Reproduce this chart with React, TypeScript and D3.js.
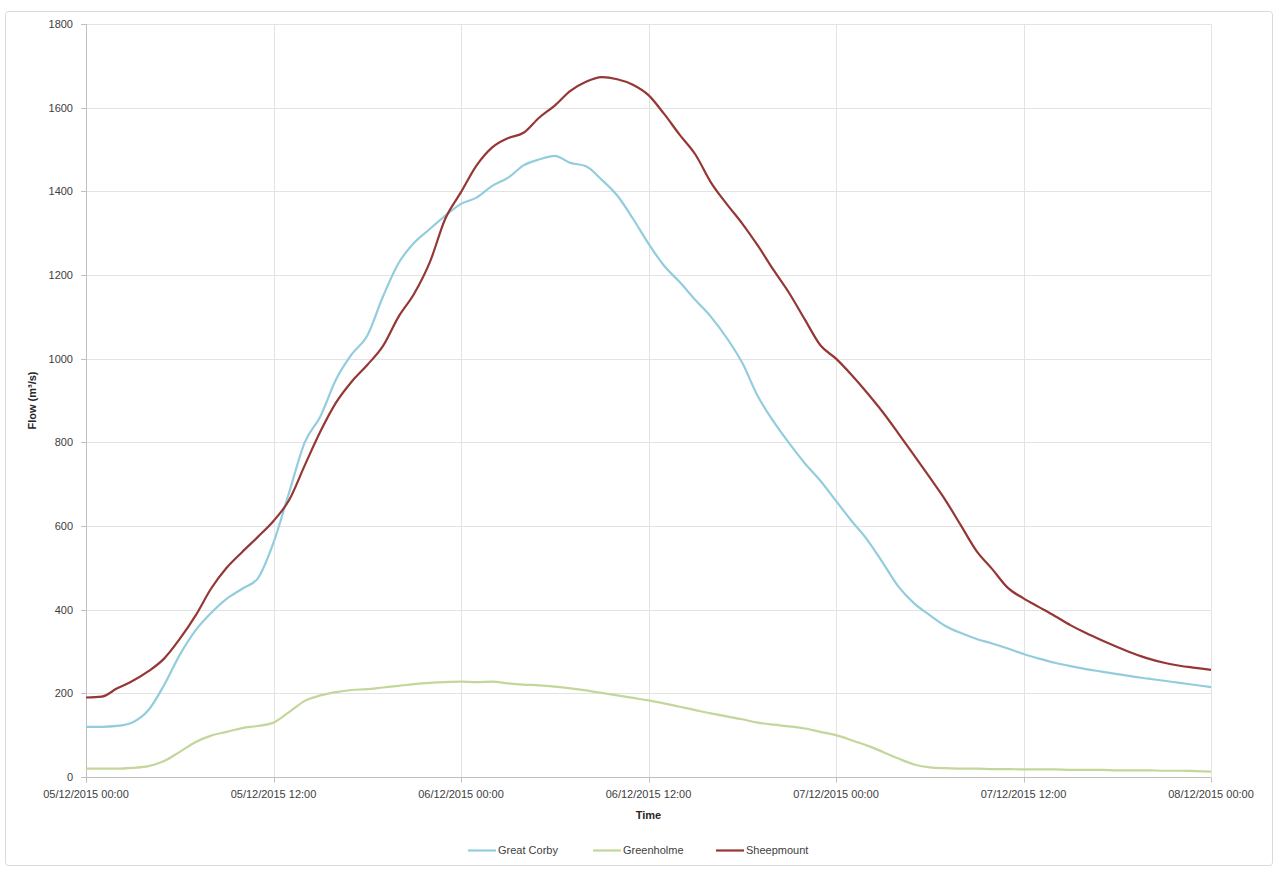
import React, { useEffect, useRef } from 'react';
import * as d3 from 'd3';

// hourly readings from 05/12/2015 00:00 to 08/12/2015 00:00
const startTime = Date.UTC(2015, 11, 5, 0, 0);
const hours = d3.range(0, 73);

const greatCorby = [
  120, 120, 122, 131, 160, 220, 292, 350, 392, 426, 450, 475, 560, 680, 800, 862, 950, 1010, 1055,
  1148, 1228, 1277, 1310, 1342, 1370, 1385, 1413, 1432, 1462, 1476, 1485, 1468, 1460, 1428, 1390,
  1335, 1275, 1222, 1183, 1140, 1100, 1050, 990, 910, 850, 798, 750, 708, 660, 612, 567, 512, 455,
  415, 387, 361, 344, 330, 319, 307, 294, 283, 273, 265, 258, 252, 246, 240, 235, 230, 225, 220, 215
];

const greenholme = [
  20, 20, 20, 22, 26, 38, 60, 83, 99, 108, 117, 122, 130, 155, 182, 195, 203, 208, 210, 214, 218,
  222, 225, 227, 228, 227, 228, 224, 221, 219, 216, 212, 207, 201, 195, 189, 183, 176, 168, 160, 152,
  145, 138, 130, 125, 121, 116, 108, 100, 88, 75, 60, 44, 30, 23, 21, 20, 20, 19, 19, 18, 18, 18, 17,
  17, 17, 16, 16, 16, 15, 15, 14, 13
];

const sheepmount = [
  190, 192, 212, 230, 253, 283, 330, 385, 450, 500, 538, 574, 612, 662, 745, 826, 895, 945, 985,
  1030, 1100, 1155, 1230, 1335, 1398, 1462, 1505, 1527, 1540, 1576, 1605, 1640, 1662, 1673, 1668,
  1655, 1630, 1585, 1535, 1488, 1421, 1370, 1323, 1270, 1212, 1157, 1094, 1032, 1000, 961, 918, 872,
  821, 769, 716, 662, 601, 540, 497, 452, 427, 406, 385, 363, 344, 327, 311, 296, 283, 273, 266, 261, 256
];

const seriesNames = ['Great Corby', 'Greenholme', 'Sheepmount'];
const seriesColors = ['#93cddd', '#c3d69b', '#953735'];
const yTicks = [0, 200, 400, 600, 800, 1000, 1200, 1400, 1600, 1800];

export default function App() {
  const svgRef = useRef<SVGSVGElement | null>(null);

  useEffect(() => {
    const width = 1279;
    const height = 869;
    const margin = { left: 86, right: 68, top: 24, bottom: 92 };

    const svg = d3.select(svgRef.current).attr('width', width).attr('height', height);
    svg.selectAll('*').remove();

    const font = '"Liberation Sans", Arial, sans-serif';

    // chart border
    svg.append('rect')
      .attr('x', 5.5).attr('y', 11.5)
      .attr('width', 1267).attr('height', 854)
      .attr('rx', 3)
      .attr('fill', '#fff')
      .attr('stroke', '#d9d9d9');

    const times = hours.map(h => new Date(startTime + h * 3600 * 1000));

    const x = d3.scaleUtc()
      .domain([times[0], times[times.length - 1]])
      .range([margin.left, width - margin.right]);
    const y = d3.scaleLinear().domain([0, 1800]).range([height - margin.bottom, margin.top]);

    const xTicks = x.ticks(d3.utcHour.every(12) as d3.TimeInterval);
    const fmt = d3.utcFormat('%d/%m/%Y %H:%M');

    // grid
    svg.append('g').selectAll('line.h')
      .data(yTicks.filter(t => t > 0))
      .enter().append('line')
      .attr('x1', margin.left).attr('x2', width - margin.right)
      .attr('y1', d => Math.round(y(d)) + 0.5).attr('y2', d => Math.round(y(d)) + 0.5)
      .attr('stroke', '#e3e3e3');

    svg.append('g').selectAll('line.v')
      .data(xTicks.slice(1))
      .enter().append('line')
      .attr('x1', d => Math.round(x(d)) + 0.5).attr('x2', d => Math.round(x(d)) + 0.5)
      .attr('y1', margin.top).attr('y2', height - margin.bottom)
      .attr('stroke', '#e3e3e3');

    // axes
    const x0 = Math.round(y(0)) + 0.5;
    svg.append('line')
      .attr('x1', margin.left).attr('x2', width - margin.right)
      .attr('y1', x0).attr('y2', x0)
      .attr('stroke', '#bfbfbf');
    svg.append('line')
      .attr('x1', margin.left + 0.5).attr('x2', margin.left + 0.5)
      .attr('y1', margin.top).attr('y2', height - margin.bottom)
      .attr('stroke', '#bfbfbf');

    svg.append('g').selectAll('line')
      .data(yTicks)
      .enter().append('line')
      .attr('x1', margin.left - 5).attr('x2', margin.left)
      .attr('y1', d => Math.round(y(d)) + 0.5).attr('y2', d => Math.round(y(d)) + 0.5)
      .attr('stroke', '#bfbfbf');

    svg.append('g').selectAll('line')
      .data(xTicks)
      .enter().append('line')
      .attr('x1', d => Math.round(x(d)) + 0.5).attr('x2', d => Math.round(x(d)) + 0.5)
      .attr('y1', x0).attr('y2', x0 + 5)
      .attr('stroke', '#bfbfbf');

    svg.append('g').selectAll('text')
      .data(yTicks)
      .enter().append('text')
      .attr('x', margin.left - 13)
      .attr('y', d => y(d))
      .attr('dy', '0.35em')
      .attr('text-anchor', 'end')
      .style('font-family', font)
      .style('font-size', '11px')
      .attr('fill', '#404040')
      .text(d => d);

    svg.append('g').selectAll('text')
      .data(xTicks)
      .enter().append('text')
      .attr('x', d => x(d))
      .attr('y', height - margin.bottom + 21)
      .attr('text-anchor', 'middle')
      .style('font-family', font)
      .style('font-size', '11px')
      .attr('fill', '#404040')
      .text(d => fmt(d));

    // axis titles
    svg.append('text')
      .attr('x', (margin.left + width - margin.right) / 2)
      .attr('y', 819)
      .attr('text-anchor', 'middle')
      .style('font-family', font)
      .style('font-size', '11px')
      .style('font-weight', 'bold')
      .attr('fill', '#262626')
      .text('Time');

    svg.append('text')
      .attr('transform', `translate(36,${(margin.top + height - margin.bottom) / 2}) rotate(-90)`)
      .attr('text-anchor', 'middle')
      .style('font-family', font)
      .style('font-size', '11px')
      .style('font-weight', 'bold')
      .attr('fill', '#262626')
      .text('Flow (m³/s)');

    // lines
    const allSeries = [greatCorby, greenholme, sheepmount];
    const line = d3.line<number>()
      .x((_, i) => x(times[i]))
      .y(d => y(d))
      .curve(d3.curveMonotoneX);

    allSeries.forEach((vals, i) => {
      svg.append('path')
        .datum(vals)
        .attr('d', line)
        .attr('fill', 'none')
        .attr('stroke', seriesColors[i])
        .attr('stroke-width', 2.2)
        .attr('stroke-linejoin', 'round');
    });

    // legend
    const legendX = [468, 593, 716];
    const legend = svg.append('g');
    seriesNames.forEach((name, i) => {
      legend.append('line')
        .attr('x1', legendX[i]).attr('x2', legendX[i] + 28)
        .attr('y1', 850.5).attr('y2', 850.5)
        .attr('stroke', seriesColors[i])
        .attr('stroke-width', 2.2);
      legend.append('text')
        .attr('x', legendX[i] + 30)
        .attr('y', 850)
        .attr('dy', '0.35em')
        .style('font-family', font)
        .style('font-size', '11px')
        .attr('fill', '#404040')
        .text(name);
    });
  }, []);

  return (
    <svg ref={svgRef} style={{ position: 'absolute', left: 0, top: 0 }} />
  );
}
